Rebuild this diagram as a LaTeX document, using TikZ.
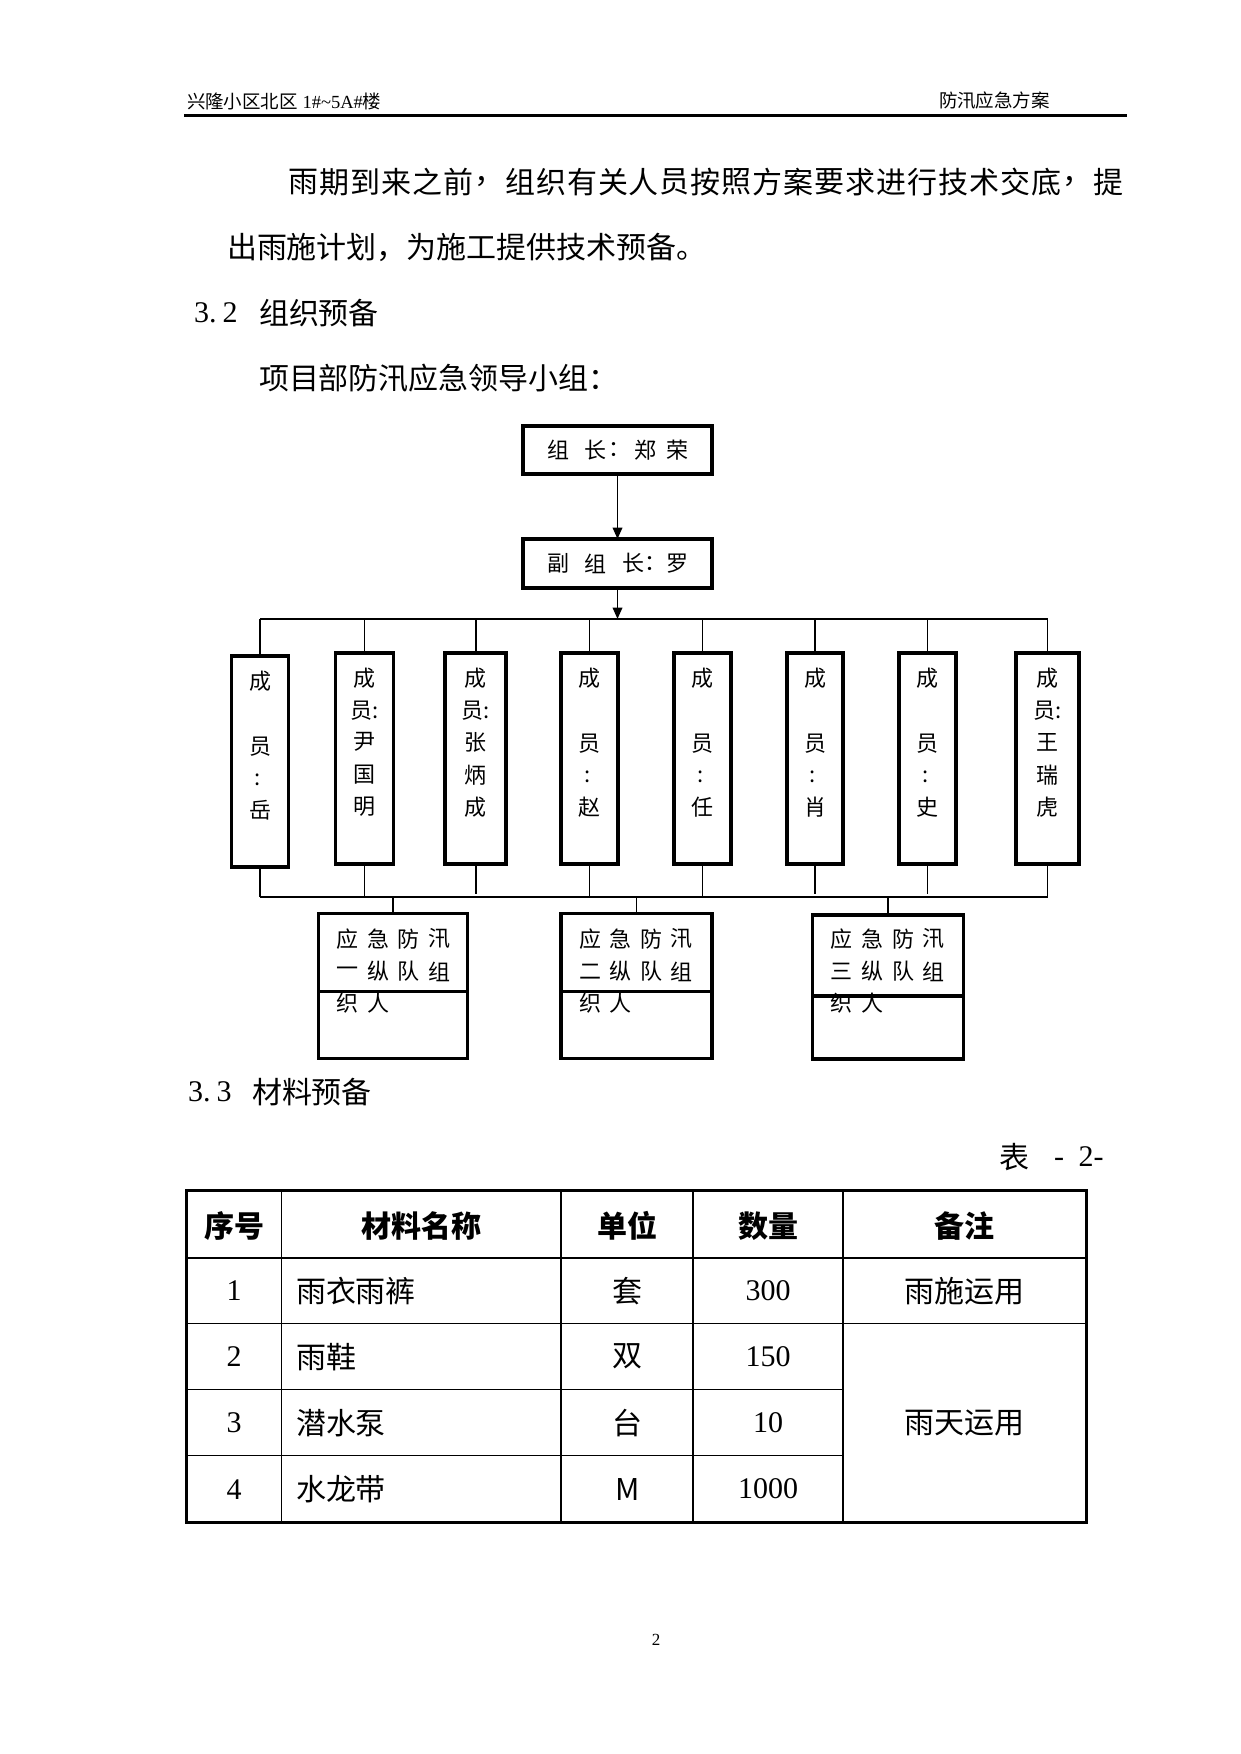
\documentclass[tikz,border=0pt]{standalone}
\usepackage{fontspec}
\usepackage{graphicx}
\usetikzlibrary{arrows.meta}
\setmainfont{Liberation Serif}
\newfontfamily\cjk{Noto Sans CJK SC}
\newcommand\rbox[5]{\node[frame, minimum width={#4*0.4797pt}, minimum height={#5*0.4797pt}] (#1) at (#2,#3) {};}
\begin{document}
\begin{tikzpicture}[x=0.4797pt, y=-0.4797pt,
  every node/.style={inner sep=0pt, outer sep=0pt},
  body/.style={font=\cjk\fontsize{14.39pt}{17pt}\selectfont},
  bodyrm/.style={font=\fontsize{14.39pt}{17pt}\selectfont},
  thead/.style={font=\cjk\bfseries\fontsize{14.39pt}{17pt}\selectfont},
  chart/.style={font=\cjk\fontsize{10.55pt}{12pt}\selectfont},
  hdr/.style={font=\fontsize{8.87pt}{10pt}\selectfont},
  pg/.style={font=\fontsize{8.15pt}{10pt}\selectfont},
  frame/.style={draw, line width=1.9pt},
  link/.style={line width=0.9pt},
  tip/.style={-{Triangle[length=5.5pt,width=4.6pt]}},
  tline/.style={line width=0.7pt},
  tborder/.style={line width=1.7pt},
  hrule/.style={line width=1.3pt}
]
\fill[white] (0,0) rectangle (1241,1754);
\useasboundingbox (0,0) rectangle (1241,1754);

% ---------- page header ----------
\node[hdr, anchor=west] (hl) at (187,101) {{\cjk 兴隆小区北区} 1\#\textasciitilde5A\#{\cjk 楼}};
\node[hdr, anchor=west] (hr) at (939,101) {\cjk 防汛应急方案};
\coordinate (hruleL) at (184,115.5);
\coordinate (hruleR) at (1127,115.5);
\draw[hrule] (hruleL) -- (hruleR);

% ---------- body text ----------
\foreach \c [count=\k from 0] in {雨,期,到,来,之,前,，,组,织,有,关,人,员,按,照,方,案,要,求,进,行,技,术,交,底,，,提}
  \node[body] (p1c\k) at (303.5+\k*30.95,182) {\c};
\node[body, anchor=west] (p2) at (227,247) {出雨施计划，为施工提供技术预备。};
\node[bodyrm, anchor=west] (s32n) at (194,313) {3.\hspace{3pt}2};
\node[body, anchor=west] (s32) at (259,313) {组织预备};
\node[body, anchor=west] (lead) at (259,378) {项目部防汛应急领导小组：};

% ---------- org chart ----------
\rbox{t1}{617.5}{450}{189}{48}
\rbox{t2}{617.5}{563.5}{189}{49}
\foreach \c/\x [count=\k] in {组/558,长/595,：/619,郑/645,荣/677.5}
  \node[chart] (t1c\k) at (\x,450) {\c};
\foreach \c/\x [count=\k] in {副/558,组/595,长/633,：/655,罗/677.5}
  \node[chart] (t2c\k) at (\x,563.5) {\c};

\draw[link,tip] (t1.south) -- (t2.north);
\coordinate (busL) at (260,619);
\coordinate (busR) at (1047.5,619);
\draw[link,tip] (t2.south) -- (t2.south |- busL);
\draw[link] (busL) -- (busR);

\rbox{m1}{260}{761.5}{57}{211}
\rbox{m2}{364.5}{758.5}{58}{211}
\rbox{m3}{475.7}{758.5}{61}{211}
\rbox{m4}{589.5}{758.5}{57}{211}
\rbox{m5}{702.5}{758.5}{57}{211}
\rbox{m6}{815}{758.5}{56}{211}
\rbox{m7}{927.5}{758.5}{57}{211}
\rbox{m8}{1047.5}{758.5}{63}{211}

\foreach \i in {1,...,8}
  \draw[link] (m\i.north |- busL) -- (m\i.north);

% member texts: short form
\foreach \x/\n/\d [count=\k] in {260/岳/3,589.5/赵/0,702.5/任/0,815/肖/0,927.5/史/0}{
  \node[chart] (ma\k) at (\x,678.6+\d) {成};
  \node[chart] (mb\k) at (\x,743.5+\d) {员};
  \node[chart] (mc\k) at (\x-2,777+\d) {:};
  \node[chart] (md\k) at (\x,807+\d) {\n};
}
% member texts: long form
\foreach \x/\p/\q/\r [count=\k] in {364.5/尹/国/明,475.7/张/炳/成,1047.5/王/瑞/虎}{
  \node[chart] (na\k) at (\x,678.6) {成};
  \node[chart] (nb\k) at (\x,711) {员:};
  \node[chart] (nc\k) at (\x,742) {\p};
  \node[chart] (nd\k) at (\x,775) {\q};
  \node[chart] (ne\k) at (\x,807) {\r};
}

\coordinate (lowL) at (260,896.6);
\coordinate (lowR) at (1047.5,896.6);
\draw[link] (lowL) -- (lowR);
\foreach \i in {1,2,4,5,8}
  \draw[link] (m\i.south) -- (m\i.south |- lowL);
\foreach \i in {3,6,7}
  \draw[link] (m\i.south) -- ([yshift=1.2pt]m\i.south |- lowL);

\rbox{ga}{393}{986}{149}{145}
\rbox{gb}{636.5}{986}{151}{145}
\rbox{gc}{888}{986.6}{151}{144}
\foreach \g in {ga,gb,gc}
  \draw[link] (\g.north |- lowL) -- (\g.north);

\foreach \g/\L/\n in {ga/318.6/一,gb/561/二,gc/812.8/三}{
  \foreach \c [count=\k from 0] in {应,急,防,汛}
    \node[chart] (\g r1\k) at (\L+29+\k*30.6,939) {\c};
  \foreach \c [count=\k from 0] in {\n,纵,队,组}
    \node[chart] (\g r2\k) at (\L+29+\k*30.6,971.5) {\c};
  \foreach \c [count=\k from 0] in {织,人}
    \node[chart] (\g r3\k) at (\L+29+\k*30.6,1003) {\c};
}
\draw[line width=1.6pt] (ga.west |- 0,991.7) -- (ga.east |- 0,991.7);
\draw[line width=1.6pt] (gb.west |- 0,991.7) -- (gb.east |- 0,991.7);
\draw[line width=1.6pt] (gc.west |- 0,996) -- (gc.east |- 0,996);

% ---------- materials ----------
\node[bodyrm, anchor=west] (s33n) at (188,1092) {3.\hspace{3pt}3};
\node[body, anchor=west] (s33) at (252,1092) {材料预备};
\node[body] (tabl) at (1014,1157) {表};
\node[bodyrm, anchor=west] (tabn) at (1054,1157) {-\hspace{7pt}2-};

\draw[tline] (186.7,1257.8) -- (1086.7,1257.8);
\draw[tline] (186.7,1323.7) -- (1086.7,1323.7);
\draw[tline] (186.7,1389.7) -- (843,1389.7);
\draw[tline] (186.7,1455.6) -- (843,1455.6);
\foreach \x in {281.7,561.2,693.2,843}
  \draw[tline] (\x,1190.7) -- (\x,1522.7);
\draw[tborder] (186.7,1190.7) rectangle (1086.7,1522.7);

\foreach \t/\x [count=\k] in {序号/234.2,材料名称/421.5,单位/627.2,数量/768.1,备注/964.9}
  \node[thead] (h\k) at (\x,1226) {\t};

\foreach \n/\m/\u/\q/\y in {1/雨衣雨裤/套/300/1290.75,2/雨鞋/双/150/1356.7,3/潜水泵/台/10/1422.65,4/水龙带/M/1000/1489.15}{
  \node[bodyrm] (ra\n) at (234.2,\y) {\n};
  \node[body, anchor=west] (rb\n) at (296,\y) {\m};
  \node[body] (rc\n) at (627.2,\y) {\u};
  \node[bodyrm] (rd\n) at (768.1,\y) {\q};
}
\node[body] (re1) at (964.9,1290.75) {雨施运用};
\node[body] (re2) at (964.9,1422.65) {雨天运用};

\node[pg] (pnum) at (656,1640) {2};
\end{tikzpicture}
\end{document}
